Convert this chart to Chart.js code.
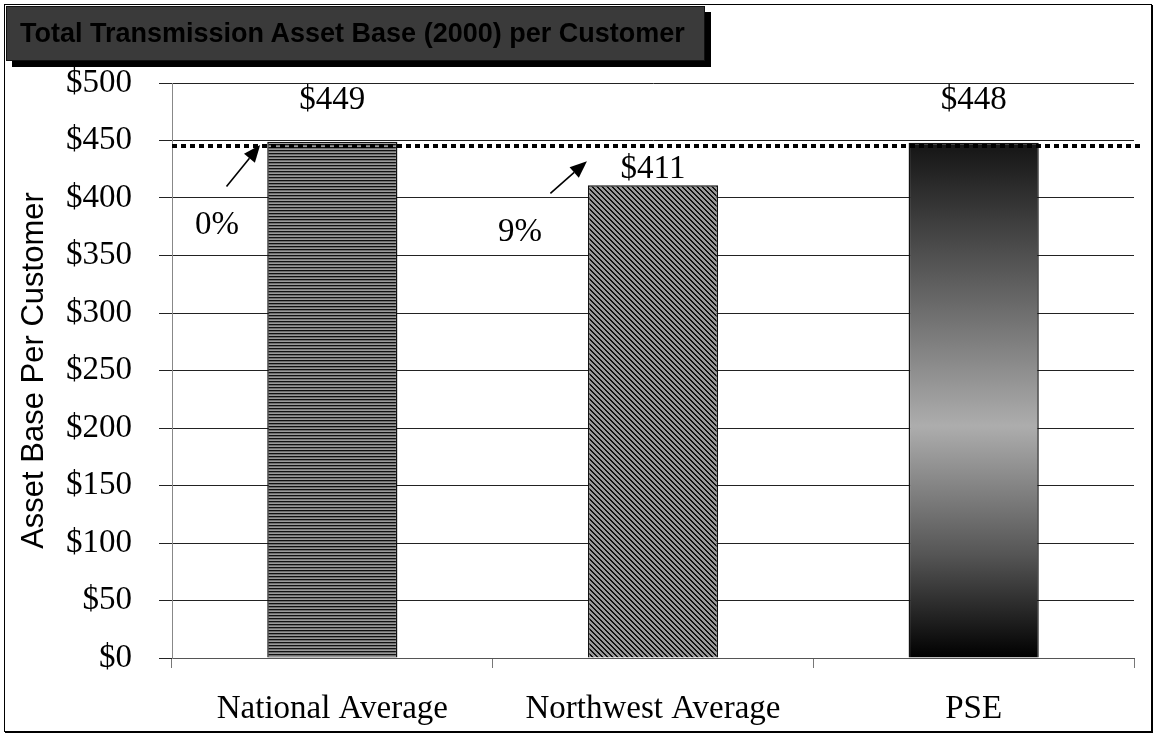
<!DOCTYPE html>
<html lang="en">
<head>
  <meta charset="UTF-8">
  <title>Total Transmission Asset Base (2000) per Customer</title>
  <script src="https://cdn.jsdelivr.net/npm/chart.js"></script>
  <style>
    body { margin: 0; background: #fff; }
    #wrap { position: relative; width: 1157px; height: 736px; }
    #frame {
      position: absolute; left: 4px; top: 4px; width: 1146px; height: 726px;
      border: 1.5px solid #000; box-shadow: 1px 1px 0 #000;
    }
    #title {
      position: absolute; left: 6px; top: 6px; width: 699px; height: 55px;
      background: #3a3a3a; border: 1px solid #111; box-shadow: 6px 6px 0 #000;
      font: bold 27px 'Liberation Sans', Arial, sans-serif; color: #000;
      line-height: 53px; padding-left: 13px; box-sizing: border-box; white-space: nowrap;
    }
    canvas { position: absolute; left: 0; top: 0; }
  </style>
</head>
<body>
<div id="wrap">
  <div id="frame"></div>
  <canvas id="chart" width="1157" height="736"></canvas>
  <div id="title">Total Transmission Asset Base (2000) per Customer</div>
</div>
<script>
  const categories = ['National Average', 'Northwest Average', 'PSE'];
  const values = [449, 411, 448];
  const valueLabelPos = [485, 425, 485];   // where the $ labels sit (in $)
  const refLine = 445;                      // dotted reference line
  // arrows: category index + offset, from/to value
  const arrows = [
    { cat: 0, x1: -0.33, y1: 410, x2: -0.225, y2: 446 },
    { cat: 1, x1: -0.32, y1: 404, x2: -0.206, y2: 432 }
  ];
  const pctLabels = [
    { cat: 0, dx: -0.36, y: 376, text: '0%' },
    { cat: 1, dx: -0.415, y: 370, text: '9%' }
  ];
  const yTicks = [0, 50, 100, 150, 200, 250, 300, 350, 400, 450, 500];

  const serif = "'Liberation Serif', 'Times New Roman', serif";
  const sans = "'Liberation Sans', Arial, sans-serif";

  function stripePattern() {
    const c = document.createElement('canvas');
    c.width = 4; c.height = 3;
    const g = c.getContext('2d');
    g.fillStyle = '#111'; g.fillRect(0, 0, 4, 1);
    g.fillStyle = '#6e6e6e'; g.fillRect(0, 1, 4, 1);
    g.fillStyle = '#999'; g.fillRect(0, 2, 4, 1);
    return g.createPattern(c, 'repeat');
  }
  function diagPattern() {
    const n = 5;
    const c = document.createElement('canvas');
    c.width = n; c.height = n;
    const g = c.getContext('2d');
    for (let x = 0; x < n; x++) for (let y = 0; y < n; y++) {
      g.fillStyle = (((x - y) % n) + n) % n < 2 ? '#111' : '#9a9a9a';
      g.fillRect(x, y, 1, 1);
    }
    return g.createPattern(c, 'repeat');
  }

  function barFill(ctx) {
    const chart = ctx.chart;
    if (!chart.chartArea) return '#888';
    const i = ctx.dataIndex;
    if (i === 0) return stripePattern();
    if (i === 1) return diagPattern();
    const ys = chart.scales.y;
    const gr = chart.ctx.createLinearGradient(0, ys.getPixelForValue(values[2]), 0, ys.getPixelForValue(0));
    gr.addColorStop(0, '#141414');
    gr.addColorStop(0.3, '#666');
    gr.addColorStop(0.55, '#adadad');
    gr.addColorStop(0.8, '#555');
    gr.addColorStop(1, '#000');
    return gr;
  }

  const overlay = {
    id: 'overlay',
    afterDatasetsDraw(chart) {
      const { ctx, scales: { x, y }, chartArea } = chart;
      ctx.save();
      // dotted reference line
      ctx.strokeStyle = '#000';
      ctx.lineWidth = 4;
      ctx.setLineDash([5, 4]);
      const ry = Math.round(y.getPixelForValue(refLine));
      ctx.beginPath();
      ctx.moveTo(chartArea.left, ry);
      ctx.lineTo(chartArea.right + 6, ry);
      ctx.stroke();
      ctx.setLineDash([]);

      const step = x.getPixelForValue(1) - x.getPixelForValue(0);

      // value labels
      ctx.fillStyle = '#000';
      ctx.font = '33px ' + serif;
      ctx.textAlign = 'center';
      ctx.textBaseline = 'middle';
      values.forEach((v, i) => {
        ctx.fillText('$' + v, x.getPixelForValue(i), y.getPixelForValue(valueLabelPos[i]));
      });

      // arrows
      arrows.forEach(a => {
        const cx = x.getPixelForValue(a.cat);
        const x1 = cx + a.x1 * step, y1 = y.getPixelForValue(a.y1);
        const x2 = cx + a.x2 * step, y2 = y.getPixelForValue(a.y2);
        const ang = Math.atan2(y2 - y1, x2 - x1);
        const hl = 17, hw = 7;
        ctx.lineWidth = 1.6;
        ctx.beginPath();
        ctx.moveTo(x1, y1);
        ctx.lineTo(x2 - Math.cos(ang) * hl, y2 - Math.sin(ang) * hl);
        ctx.stroke();
        ctx.beginPath();
        ctx.moveTo(x2, y2);
        ctx.lineTo(x2 - Math.cos(ang) * hl - Math.sin(ang) * hw, y2 - Math.sin(ang) * hl + Math.cos(ang) * hw);
        ctx.lineTo(x2 - Math.cos(ang) * hl + Math.sin(ang) * hw, y2 - Math.sin(ang) * hl - Math.cos(ang) * hw);
        ctx.closePath();
        ctx.fill();
      });

      // percentage labels
      pctLabels.forEach(p => {
        ctx.fillText(p.text, x.getPixelForValue(p.cat) + p.dx * step, y.getPixelForValue(p.y));
      });
      ctx.restore();
    }
  };

  new Chart(document.getElementById('chart'), {
    type: 'bar',
    data: {
      labels: categories,
      datasets: [{
        data: values,
        backgroundColor: barFill,
        borderColor: '#111',
        borderWidth: 1.5,
        categoryPercentage: 1,
        barPercentage: 0.406
      }]
    },
    options: {
      responsive: false,
      animation: false,
      events: [],
      layout: { padding: { left: 0, right: 23, top: 83, bottom: 0 } },
      plugins: { legend: { display: false }, tooltip: { enabled: false } },
      scales: {
        x: {
          offset: true,
          grid: { offset: true, drawOnChartArea: false, color: '#777', tickLength: 10 },
          border: { color: '#555' },
          ticks: { color: '#000', font: { family: serif, size: 33 }, padding: 22 },
          afterFit(s) { s.height = 78; }
        },
        y: {
          min: 0, max: 500,
          afterBuildTicks(s) { s.ticks = yTicks.map(v => ({ value: v })); },
          grid: { color: '#222', lineWidth: 1, tickLength: 13 },
          border: { color: '#888' },
          ticks: { color: '#000', font: { family: serif, size: 33 }, padding: 27, callback: v => '$' + v },
          title: { display: true, text: 'Asset Base Per Customer', color: '#000',
                   font: { family: sans, size: 31 }, padding: { top: 16, bottom: 0 } },
          afterFit(s) { s.width = 172; }
        }
      }
    },
    plugins: [overlay]
  });
</script>
</body>
</html>
